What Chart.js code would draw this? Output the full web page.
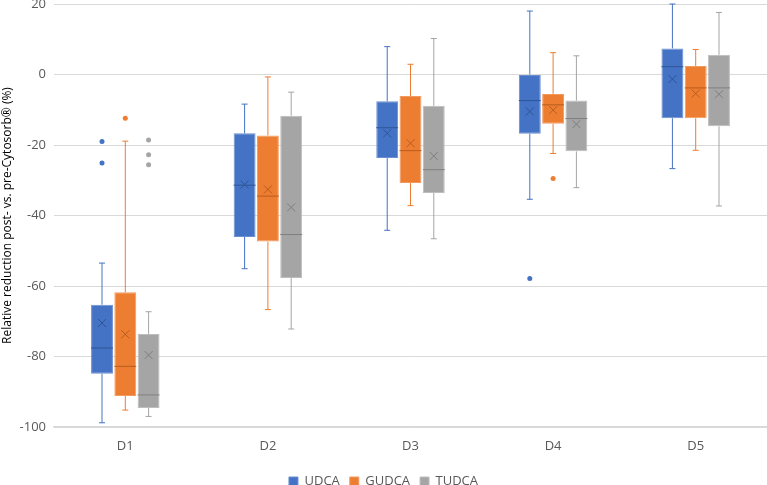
<!DOCTYPE html>
<html lang="en">
<head>
    <meta charset="UTF-8" />
    <title>Relative reduction</title>
    <script src="https://cdn.jsdelivr.net/npm/chart.js"></script>
    <style>
        html, body { margin: 0; padding: 0; background: #fff; overflow: hidden; }
        #wrap { width: 767px; height: 500px; }
    </style>
</head>
<body>
    <div id="wrap"><canvas id="chart"></canvas></div>
    <script>
        const categories = ['D1', 'D2', 'D3', 'D4', 'D5'];
        const seriesNames = ['UDCA', 'GUDCA', 'TUDCA'];

        // [min, q1, median, q3, max] per day
        const udcaBox = [[-98.8, -84.9, -77.6, -65.3, -53.5], [-55.1, -46.1, -31.4, -16.7, -8.4], [-44.2, -23.7, -15.1, -7.6, 7.9], [-35.4, -16.8, -7.4, 0, 18.0], [-26.7, -12.4, 2.2, 7.4, 20.0]];
        const gudcaBox = [[-95.2, -91.2, -82.8, -61.8, -18.9], [-66.7, -47.4, -34.5, -17.3, -0.7], [-37.2, -30.8, -21.6, -6.1, 2.9], [-22.4, -14.0, -8.6, -5.5, 6.2], [-21.5, -12.4, -3.8, 2.4, 7.1]];
        const tudcaBox = [[-97.0, -94.6, -90.9, -73.6, -67.3], [-72.2, -57.7, -45.4, -11.7, -5.0], [-46.6, -33.6, -27.0, -8.9, 10.2], [-32.1, -21.8, -12.5, -7.4, 5.3], [-37.3, -14.7, -3.8, 5.6, 17.6]];

        const udcaMean = [-70.5, -31.2, -16.7, -10.5, -1.3];
        const gudcaMean = [-73.7, -32.6, -19.5, -10.1, -5.4];
        const tudcaMean = [-79.6, -37.7, -23.1, -14.1, -5.6];

        const udcaOutliers = [[-19.0, -25.1], [], [], [-57.9], []];
        const gudcaOutliers = [[-12.4], [], [], [-29.5], []];
        const tudcaOutliers = [[-18.6, -22.8, -25.6], [], [], [], []];

        const yTicks = [-100, -80, -60, -40, -20, 0, 20];

        const boxes = [udcaBox, gudcaBox, tudcaBox];
        const means = [udcaMean, gudcaMean, tudcaMean];
        const outliers = [udcaOutliers, gudcaOutliers, tudcaOutliers];

        const fills = ['#4472C4', '#ED7D31', '#A5A5A5'];
        const edges = ['#6b8fd1', '#f29a5e', '#bdbdbd'];
        const darks = ['#2f5597', '#b85d1f', '#7f7f7f'];

        const boxPlugin = {
            id: 'boxExtras',
            afterDatasetsDraw(chart) {
                const ctx = chart.ctx;
                const y = chart.scales.y;
                ctx.save();
                boxes.forEach((series, i) => {
                    const meta = chart.getDatasetMeta(i);
                    meta.data.forEach((bar, j) => {
                        const [mn, q1, md, q3, mx] = series[j];
                        const x = bar.x;
                        const hw = bar.width / 2;
                        // whiskers
                        ctx.strokeStyle = fills[i];
                        ctx.lineWidth = 1;
                        ctx.beginPath();
                        ctx.moveTo(x, y.getPixelForValue(q3));
                        ctx.lineTo(x, y.getPixelForValue(mx));
                        ctx.moveTo(x - 3, y.getPixelForValue(mx));
                        ctx.lineTo(x + 3, y.getPixelForValue(mx));
                        ctx.moveTo(x, y.getPixelForValue(q1));
                        ctx.lineTo(x, y.getPixelForValue(mn));
                        ctx.moveTo(x - 3, y.getPixelForValue(mn));
                        ctx.lineTo(x + 3, y.getPixelForValue(mn));
                        ctx.stroke();
                        // median
                        ctx.strokeStyle = darks[i];
                        ctx.beginPath();
                        ctx.moveTo(x - hw, y.getPixelForValue(md));
                        ctx.lineTo(x + hw, y.getPixelForValue(md));
                        ctx.stroke();
                        // mean marker
                        const my = y.getPixelForValue(means[i][j]);
                        ctx.beginPath();
                        ctx.moveTo(x - 4, my - 4);
                        ctx.lineTo(x + 4, my + 4);
                        ctx.moveTo(x + 4, my - 4);
                        ctx.lineTo(x - 4, my + 4);
                        ctx.stroke();
                        // outliers
                        ctx.fillStyle = fills[i];
                        outliers[i][j].forEach(v => {
                            ctx.beginPath();
                            ctx.arc(x, y.getPixelForValue(v), 2.5, 0, Math.PI * 2);
                            ctx.fill();
                        });
                    });
                });
                ctx.restore();
            }
        };

        const ctx = document.getElementById('chart').getContext('2d');
        const chart = new Chart(ctx, {
            type: 'bar',
            data: {
                labels: categories,
                datasets: seriesNames.map((name, i) => ({
                    label: name,
                    data: boxes[i].map(b => [b[1], b[3]]),
                    backgroundColor: fills[i],
                    borderColor: edges[i],
                    borderWidth: 1,
                    borderSkipped: false,
                    categoryPercentage: 0.49,
                    barPercentage: 0.94
                }))
            },
            options: {
                responsive: true,
                maintainAspectRatio: false,
                animation: false,
                layout: { padding: { top: 4, right: 0, bottom: 2, left: 0 } },
                plugins: {
                    tooltip: { enabled: false },
                    legend: {
                        position: 'bottom',
                        labels: {
                            boxWidth: 9,
                            boxHeight: 9,
                            padding: 10,
                            color: '#595959',
                            font: { family: 'Open Sans', size: 13 }
                        }
                    }
                },
                scales: {
                    x: {
                        grid: { display: false, drawTicks: false },
                        border: { color: '#d9d9d9', width: 1.5 },
                        ticks: { color: '#595959', padding: 11, font: { family: 'Open Sans', size: 13 } },
                        afterFit(scale) { scale.height = 38; }
                    },
                    y: {
                        min: -100,
                        max: 20,
                        afterBuildTicks(scale) { scale.ticks = yTicks.map(v => ({ value: v })); },
                        grid: { color: '#d9d9d9', drawTicks: false },
                        border: { display: false },
                        ticks: { color: '#595959', padding: 8, font: { family: 'Open Sans', size: 13 } },
                        title: {
                            display: true,
                            text: 'Relative reduction post- vs. pre-Cytosorb® (%)',
                            color: '#000000',
                            padding: { top: 0, bottom: 0 },
                            font: { family: 'Open Sans', size: 12 }
                        },
                        afterFit(scale) {
                            scale.width = 54;
                            scale.paddingTop = 0;
                            scale.paddingBottom = 0;
                        }
                    }
                }
            },
            plugins: [boxPlugin]
        });
    </script>
</body>
</html>
